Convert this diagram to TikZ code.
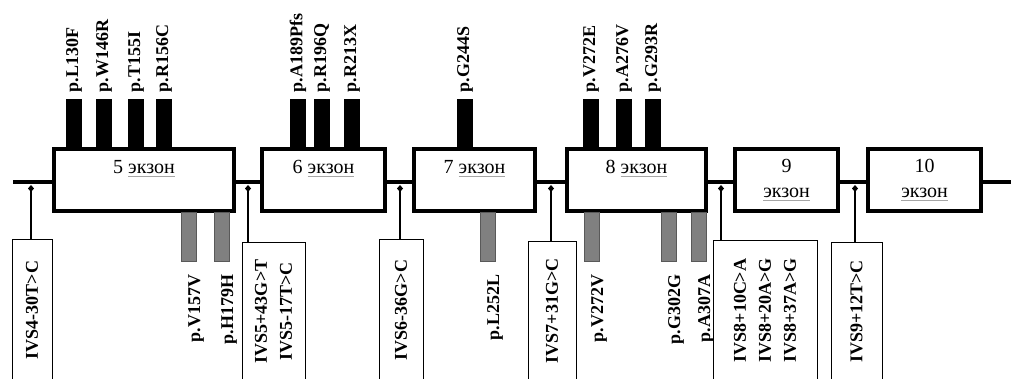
\documentclass[tikz,border=0pt]{standalone}
\usepackage{fontspec}
\setmainfont{Liberation Serif}
\usetikzlibrary{arrows.meta,positioning,calc}

% grey underline under the word
\newcommand{\grayul}[1]{\setbox0\hbox{#1}\rlap{\color{black!35}\rule[-3.5pt]{\wd0}{0.8pt}}\box0}
\newcommand{\exw}{\grayul{экзон}}
\newcommand{\labfont}{\fontsize{18}{20}\selectfont\bfseries}

\begin{document}
\begin{tikzpicture}[x=1pt, y=-1pt,
  exon/.style={rectangle, draw, line width=3.5pt, fill=white,
               minimum height=62pt, inner sep=0pt},
  extxt/.style={anchor=north, align=center, inner sep=0pt,
                font=\fontsize{20}{25}\selectfont},
  mutbar/.style={rectangle, fill=black, minimum width=16pt,
                 minimum height=50pt, inner sep=0pt, anchor=south},
  synbar/.style={rectangle, fill=black!50, draw=black!65, line width=0.6pt,
                 minimum width=15pt, minimum height=49pt, inner sep=0pt, anchor=north},
  toplab/.style={rotate=90, anchor=west, inner sep=0pt, font=\labfont},
  botlab/.style={rotate=90, anchor=east, inner sep=0pt, font=\labfont},
  ivsbox/.style={rectangle, draw, line width=0.8pt, rotate=90, align=center,
                 inner sep=0pt, font=\fontsize{18}{25}\selectfont\bfseries},
  snp/.style={line width=1.5pt, -{Diamond[length=7pt,width=6pt]}, shorten >=3pt}
]
  \useasboundingbox (0,0) rectangle (1011,379);
  \clip (0,0) rectangle (1011,379);

  % gene line
  \coordinate (lstart) at (13,182);
  \coordinate (lend) at (1011,182);
  \draw[line width=3.5pt] (lstart) -- (lend);

  % intron points
  \coordinate (j4) at (31,182);
  \coordinate (j5) at (248,182);
  \coordinate (j6) at (400,182);
  \coordinate (j7) at (551,182);
  \coordinate (j8) at (721,182);
  \coordinate (j9) at (855,182);

  % intron variants
  \node[ivsbox, minimum width=142pt, minimum height=40pt] (ivs4) at (32,310) {IVS4-30T>C};
  \node[ivsbox, minimum width=139pt, minimum height=63pt] (ivs5) at (273.5,311.5) {IVS5+43G>T\\IVS5-17T>C};
  \node[ivsbox, minimum width=142pt, minimum height=44pt] (ivs6) at (401,310) {IVS6-36G>C};
  \node[ivsbox, minimum width=140pt, minimum height=48pt] (ivs7) at (552,311) {IVS7+31G>C};
  \node[ivsbox, minimum width=141pt, minimum height=104pt] (ivs8) at (765,310.5) {IVS8+10C>A\\IVS8+20A>G\\IVS8+37A>G};
  \node[ivsbox, minimum width=139pt, minimum height=51pt] (ivs9) at (856.5,311.5) {IVS9+12T>C};

  \draw[snp] (ivs4.east -| j4) -- (j4);
  \draw[snp] (ivs5.east -| j5) -- (j5);
  \draw[snp] (ivs6.east -| j6) -- (j6);
  \draw[snp] (ivs7.east -| j7) -- (j7);
  \draw[snp] (ivs8.east -| j8) -- (j8);
  \draw[snp] (ivs9.east -| j9) -- (j9);

  % exons
  \foreach \n/\cx/\w in {5/144/180, 6/323.5/123, 7/474.5/121, 8/636.5/139, 9/786.5/103, 10/924.5/113}
    \node[exon, minimum width=\w pt] (e\n) at (\cx,180) {};

  \node[extxt] (t5) at ($(e5.north)+(0,13)$) {5 \exw};
  \node[extxt] (t6) at ($(e6.north)+(0,13)$) {6 \exw};
  \node[extxt] (t7) at ($(e7.north)+(0,13)$) {7 \exw};
  \node[extxt] (t8) at ($(e8.north)+(0,13)$) {8 \exw};
  \node[extxt] (t9) at ($(e9.north)+(0,12)$) {9\\\exw};
  \node[extxt] (t10) at ($(e10.north)+(0,12)$) {10\\\exw};

  % missense / nonsense
  \foreach \x/\m in {74/L130F, 104/W146R, 136/T155I, 164/R156C, 298/A189Pfs, 322/R196Q,
                     352/R213X, 465/G244S, 591/V272E, 624/A276V, 653/G293R} {
    \node[mutbar] (b\m) at (\x,149) {};
    \node[toplab] (l\m) at ($(b\m.north)+(0,-6)$) {p.\m};
  }

  % synonymous
  \foreach \x/\m in {189/V157V, 222/H179H, 488/L252L, 592/V272V, 669/G302G, 699/A307A} {
    \node[synbar] (s\m) at (\x,212) {};
    \node[botlab] (n\m) at ($(s\m.south)+(7,13)$) {p.\m};
  }
\end{tikzpicture}
\end{document}
